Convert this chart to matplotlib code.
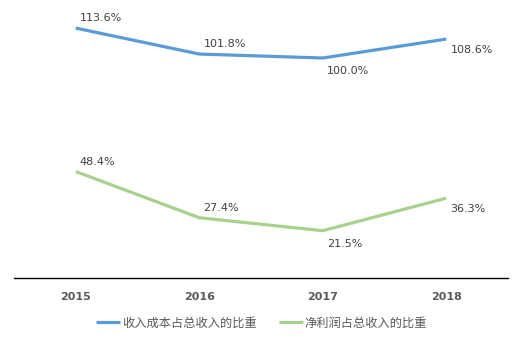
import matplotlib
matplotlib.use("Agg")
import matplotlib.pyplot as plt

plt.rcParams['font.family'] = ['Noto Sans CJK SC', 'DejaVu Sans']

years = ["2015", "2016", "2017", "2018"]
cost_ratio = [113.6, 101.8, 100.0, 108.6]
profit_ratio = [48.4, 27.4, 21.5, 36.3]
cost_label = "收入成本占总收入的比重"
profit_label = "净利润占总收入的比重"

# vertical label offsets in points (positive: above the point)
label_dy = [3.5, 3.5, -6, -4.5]

blue = "#5B9BD5"
green = "#A9D18E"
text_c = "#404040"

fig = plt.figure(figsize=(5.23, 3.42), dpi=100)
ax = fig.add_axes([14 / 523, 64 / 342, 494 / 523, 264 / 342])

x = list(range(len(years)))
ax.plot(x, cost_ratio, color=blue, lw=2.3, label=cost_label, solid_capstyle="butt")
ax.plot(x, profit_ratio, color=green, lw=2.3, label=profit_label, solid_capstyle="butt")

for vals in (cost_ratio, profit_ratio):
    for xi, v, dy in zip(x, vals, label_dy):
        ax.annotate(f"{v:.1f}%", (xi, v), xytext=(3, dy),
                    textcoords="offset points", ha="left",
                    va="bottom" if dy > 0 else "top",
                    fontsize=8, color=text_c, family=['DejaVu Sans'])

ax.set_xlim(-0.5, 3.5)
ax.set_ylim(0, 120)
for s in ("top", "right", "left"):
    ax.spines[s].set_visible(False)
ax.spines["bottom"].set_color("black")
ax.spines["bottom"].set_linewidth(1.0)
ax.set_yticks([])
ax.set_xticks(x)
ax.set_xticklabels(years, fontsize=8, fontweight="bold", color="#595959",
                   family=['DejaVu Sans'])
ax.tick_params(axis="x", length=0, pad=10)

fig.legend(loc="center", bbox_to_anchor=(0.5, 19 / 342), ncol=2, frameon=False,
           fontsize=8.8, labelcolor="#595959", handlelength=2.0, handletextpad=0.15,
           columnspacing=1.8)

fig.savefig("out.png", dpi=100, facecolor="white")
